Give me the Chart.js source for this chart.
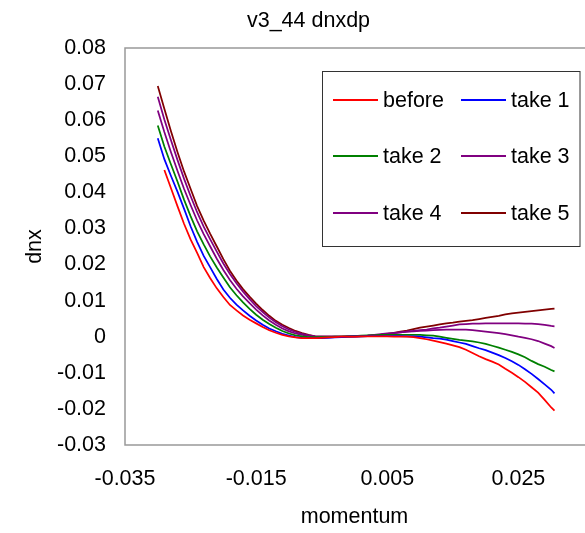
<!DOCTYPE html>
<html>
<head>
<meta charset="utf-8">
<script src="https://cdn.jsdelivr.net/npm/chart.js@4"></script>
<style>
  html, body { margin: 0; padding: 0; background: #fff; overflow: hidden; }
  #wrap { width: 585px; height: 533px; }
</style>
</head>
<body>
<div id="wrap"><canvas id="dnx_chart" width="585" height="533"></canvas></div>
<script>
// momentum values (x)
const momentum = [
  -0.030, -0.029, -0.028, -0.027, -0.026, -0.025, -0.024, -0.023, -0.022, -0.021,
  -0.020, -0.019, -0.018, -0.017, -0.016, -0.015, -0.014, -0.013, -0.012, -0.011,
  -0.010, -0.009, -0.008, -0.007, -0.006, -0.005, -0.004, -0.003, -0.002, -0.001,
  0.000, 0.001, 0.002, 0.003, 0.004, 0.005, 0.006, 0.007, 0.008, 0.009,
  0.010, 0.011, 0.012, 0.013, 0.014, 0.015, 0.016, 0.017, 0.018, 0.019,
  0.020, 0.021, 0.022, 0.023, 0.024, 0.025, 0.026, 0.027, 0.028, 0.029,
  0.030, 0.0305
];

const before = [
  null, 0.0462, 0.0412, 0.0362, 0.0313, 0.0270, 0.0232, 0.0193, 0.0162, 0.0134,
  0.0110, 0.0088, 0.0073, 0.0059, 0.0047, 0.0037, 0.0027, 0.0018, 0.0011, 0.0005,
  0.0001, -0.0002, -0.0004, -0.0004, -0.0004, -0.0003, -0.0002, -0.0001, 0, 0,
  0, 0.0001, 0.0001, 0.0001, 0.0001, 0.0001, 0, 0, 0, -0.0001,
  -0.0004, -0.0007, -0.0011, -0.0015, -0.0019, -0.0024, -0.0029, -0.0036, -0.0045, -0.0054,
  -0.0062, -0.0069, -0.0077, -0.0089, -0.0100, -0.0112, -0.0125, -0.0140, -0.0155, -0.0175,
  -0.0196, -0.0205
];
const take1 = [
  0.0550, 0.0492, 0.0446, 0.0402, 0.0355, 0.0306, 0.0263, 0.0224, 0.0192, 0.0160,
  0.0131, 0.0108, 0.0089, 0.0073, 0.0058, 0.0045, 0.0033, 0.0023, 0.0015, 0.0008,
  0.0003, -0.0001, -0.0003, -0.0004, -0.0004, -0.0004, -0.0003, -0.0002, -0.0001, 0,
  0.0001, 0.0001, 0.0002, 0.0002, 0.0002, 0.0002, 0.0002, 0.0002, 0.0001, 0.0001,
  0, -0.0002, -0.0004, -0.0005, -0.0008, -0.0012, -0.0016, -0.0020, -0.0026, -0.0032,
  -0.0037, -0.0044, -0.0051, -0.0059, -0.0068, -0.0078, -0.0090, -0.0103, -0.0117, -0.0132,
  -0.0147, -0.0157
];
const take2 = [
  0.0585, 0.0527, 0.0478, 0.0430, 0.0380, 0.0334, 0.0292, 0.0256, 0.0222, 0.0192,
  0.0164, 0.0137, 0.0115, 0.0095, 0.0077, 0.0061, 0.0047, 0.0035, 0.0025, 0.0016,
  0.0009, 0.0004, 0.0001, -0.0001, -0.0001, -0.0001, -0.0001, 0, 0, 0.0001,
  0.0002, 0.0003, 0.0004, 0.0004, 0.0005, 0.0005, 0.0005, 0.0005, 0.0005, 0.0005,
  0.0005, 0.0004, 0.0003, 0, -0.0003, -0.0006, -0.0009, -0.0011, -0.0013, -0.0016,
  -0.0020, -0.0025, -0.0030, -0.0036, -0.0042, -0.0049, -0.0057, -0.0067, -0.0076, -0.0083,
  -0.0092, -0.0096
];
const take3 = [
  0.0627, 0.0567, 0.0512, 0.0460, 0.0410, 0.0365, 0.0322, 0.0284, 0.0250, 0.0216,
  0.0185, 0.0157, 0.0133, 0.0112, 0.0093, 0.0075, 0.0059, 0.0045, 0.0033, 0.0023,
  0.0015, 0.0009, 0.0005, 0.0002, 0, 0, 0, 0, 0, 0.0001,
  0.0001, 0.0002, 0.0003, 0.0005, 0.0007, 0.0009, 0.0010, 0.0012, 0.0014, 0.0015,
  0.0016, 0.0017, 0.0018, 0.0019, 0.0020, 0.0020, 0.0020, 0.0020, 0.0018, 0.0016,
  0.0014, 0.0012, 0.0010, 0.0007, 0.0004, 0, -0.0003, -0.0007, -0.0012, -0.0019,
  -0.0026, -0.0031
];
const take4 = [
  0.0665, 0.0602, 0.0545, 0.0490, 0.0438, 0.0390, 0.0345, 0.0305, 0.0270, 0.0236,
  0.0203, 0.0174, 0.0148, 0.0125, 0.0104, 0.0085, 0.0068, 0.0053, 0.0040, 0.0029,
  0.0020, 0.0013, 0.0008, 0.0004, 0.0001, 0, 0, 0, 0, 0.0001,
  0.0001, 0.0002, 0.0003, 0.0005, 0.0006, 0.0008, 0.0010, 0.0012, 0.0014, 0.0016,
  0.0018, 0.0020, 0.0023, 0.0025, 0.0028, 0.0031, 0.0034, 0.0035, 0.0036, 0.0036,
  0.0037, 0.0037, 0.0037, 0.0037, 0.0037, 0.0037, 0.0036, 0.0036, 0.0035, 0.0033,
  0.0030, 0.0029
];
const take5 = [
  0.0695, 0.0632, 0.0570, 0.0512, 0.0458, 0.0410, 0.0362, 0.0322, 0.0285, 0.0250,
  0.0215, 0.0183, 0.0156, 0.0132, 0.0111, 0.0092, 0.0074, 0.0058, 0.0044, 0.0033,
  0.0024, 0.0016, 0.0010, 0.0005, 0.0001, 0, 0, 0, 0, 0,
  0, 0.0001, 0.0002, 0.0003, 0.0005, 0.0008, 0.0011, 0.0014, 0.0017, 0.0021,
  0.0025, 0.0028, 0.0031, 0.0034, 0.0037, 0.0039, 0.0042, 0.0044, 0.0046, 0.0049,
  0.0052, 0.0055, 0.0058, 0.0062, 0.0065, 0.0067, 0.0069, 0.0071, 0.0073, 0.0075,
  0.0077, 0.0078
];

const seriesNames = ['before', 'take 1', 'take 2', 'take 3', 'take 4', 'take 5'];
const seriesColours = ['#ff0000', '#0000ff', '#008000', '#800080', '#800080', '#800000'];

const xTicks = [-0.035, -0.015, 0.005, 0.025];
const yTicks = [0.08, 0.07, 0.06, 0.05, 0.04, 0.03, 0.02, 0.01, 0, -0.01, -0.02, -0.03];

const FONT = { family: '"Liberation Sans", Arial, sans-serif', size: 21.5 };

// build the datasets
const allSeries = [before, take1, take2, take3, take4, take5];
const datasets = [];
for (var i = 0; i < allSeries.length; i++) {
    const pts = [];
    for (var j = 0; j < momentum.length; j++) {
        if (allSeries[i][j] != null) {
            pts.push({ x: momentum[j], y: allSeries[i][j] });
        }
    }
    datasets.push({
        label: seriesNames[i],
        data: pts,
        borderColor: seriesColours[i],
        backgroundColor: seriesColours[i],
        borderWidth: 1.75,
        pointRadius: 0,
        tension: 0,
        fill: false,
    });
}

// gray frame round the plot (right edge falls outside the picture)
const framePlugin = {
    id: 'frame',
    beforeDatasetsDraw(chart) {
        const { ctx, chartArea: a } = chart;
        ctx.save();
        ctx.strokeStyle = '#999999';
        ctx.lineWidth = 1.5;
        ctx.beginPath();
        ctx.moveTo(a.right + 2, a.top);
        ctx.lineTo(a.left, a.top);
        ctx.lineTo(a.left, a.bottom);
        ctx.lineTo(a.right + 2, a.bottom);
        ctx.stroke();
        ctx.restore();
    }
};

// chart title + boxed two-column legend
const legendPlugin = {
    id: 'boxLegend',
    afterDraw(chart) {
        const ctx = chart.ctx;
        ctx.save();
        ctx.font = FONT.size + 'px ' + FONT.family;
        ctx.fillStyle = '#000';
        ctx.textAlign = 'center';
        ctx.textBaseline = 'middle';
        ctx.fillText('v3_44 dnxdp', 308.5, 21);

        ctx.fillStyle = '#fff';
        ctx.fillRect(322.5, 71.5, 257.5, 175);
        ctx.strokeStyle = '#333333';
        ctx.lineWidth = 1;
        ctx.strokeRect(322.5, 71.5, 257.5, 175);

        const cols = [333, 461];
        const rows = [100, 156, 213];
        ctx.textAlign = 'left';
        chart.data.datasets.forEach(function (ds, k) {
            const x = cols[k % 2];
            const y = rows[Math.floor(k / 2)];
            ctx.strokeStyle = ds.borderColor;
            ctx.lineWidth = 2;
            ctx.beginPath();
            ctx.moveTo(x, y);
            ctx.lineTo(x + 45, y);
            ctx.stroke();
            ctx.fillStyle = '#000';
            ctx.fillText(ds.label, x + 50, y + 1);
        });
        ctx.restore();
    }
};

const canvas = document.getElementById('dnx_chart');
new Chart(canvas, {
    type: 'line',
    data: { datasets: datasets },
    options: {
        responsive: false,
        animation: false,
        layout: { padding: { left: 0, right: 1, top: 48, bottom: 0 } },
        plugins: {
            legend: { display: false },
            title: { display: false },
            tooltip: { enabled: false },
        },
        scales: {
            x: {
                type: 'linear',
                min: -0.035,
                max: 0.035,
                afterBuildTicks: axis => { axis.ticks = xTicks.map(v => ({ value: v })); },
                afterFit: axis => { axis.height = 88; },
                grid: { display: false, drawTicks: false },
                border: { display: false },
                ticks: {
                    color: '#000',
                    font: FONT,
                    padding: 21,
                    maxRotation: 0,
                    autoSkip: false,
                    callback: v => String(v),
                },
                title: {
                    display: true,
                    text: 'momentum',
                    color: '#000',
                    font: FONT,
                    padding: { top: 0, bottom: 3 },
                },
            },
            y: {
                type: 'linear',
                min: -0.03,
                max: 0.08,
                afterBuildTicks: axis => { axis.ticks = yTicks.map(v => ({ value: v })); },
                afterFit: axis => { axis.width = 125; },
                grid: { display: false, drawTicks: false },
                border: { display: false },
                ticks: {
                    color: '#000',
                    font: FONT,
                    padding: 19,
                    autoSkip: false,
                    callback: v => String(v),
                },
                title: {
                    display: true,
                    text: 'dnx',
                    color: '#000',
                    font: FONT,
                    padding: { top: 22, bottom: 0 },
                },
            },
        },
    },
    plugins: [framePlugin, legendPlugin],
});
</script>
</body>
</html>
